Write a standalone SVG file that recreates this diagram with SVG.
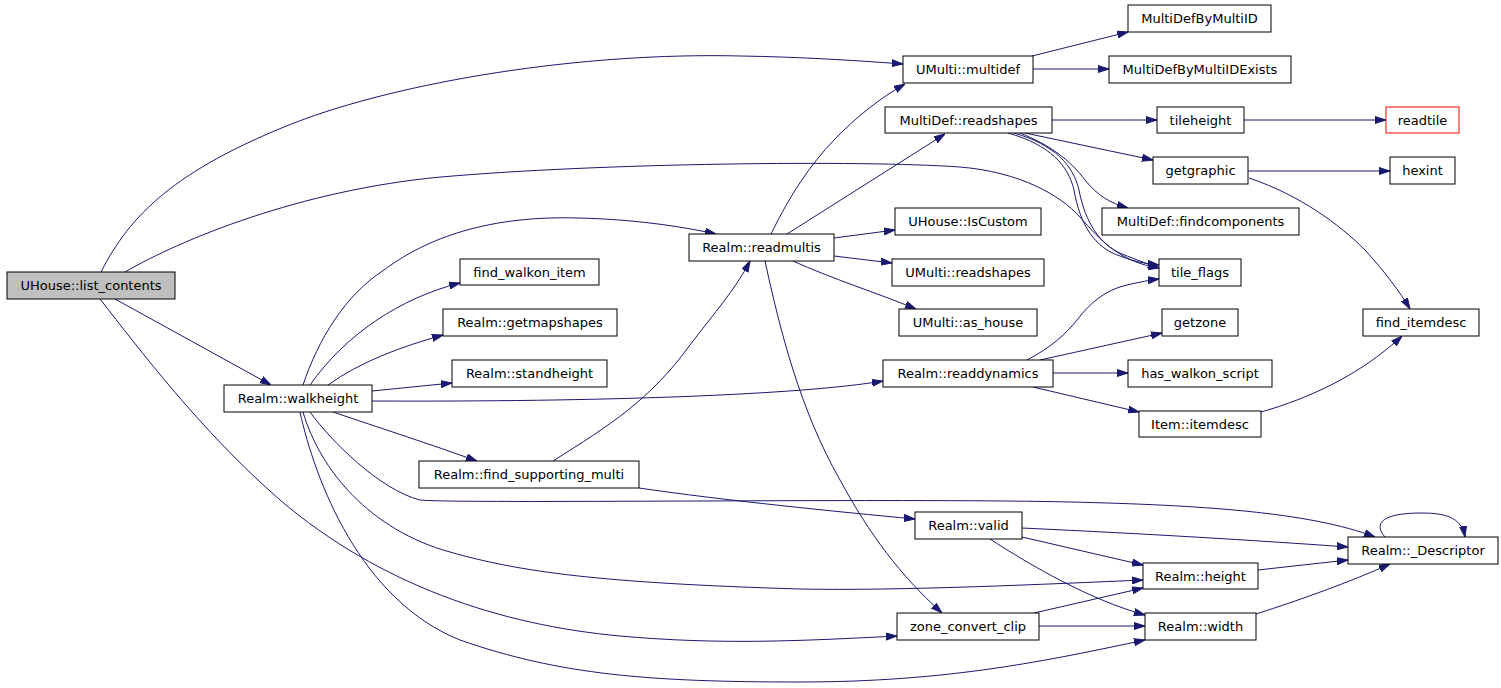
<svg xmlns="http://www.w3.org/2000/svg" width="1501" height="688" viewBox="0 0 1501 688">
<style>
.n rect{fill:#fff;stroke:#000;stroke-width:1}
.n text{font-family:"DejaVu Sans",sans-serif;font-size:13px;text-anchor:middle;fill:#000}
#edges path{fill:none;stroke:#191970;stroke-width:1;marker-end:url(#ah)}
</style>
<defs>
<marker id="ah" markerUnits="userSpaceOnUse" markerWidth="11" markerHeight="8" viewBox="0 0 11 8" refX="11" refY="4" orient="auto">
<path d="M0,0.5 L11,4 L0,7.5 z" fill="#191970" stroke="#191970" stroke-width="1"/>
</marker>
</defs>
<rect x="0" y="0" width="1501" height="688" fill="#fff"/>
<g id="edges">
<path d="M101,272 C130,215 175,170 294,123 C400,82 580,52 741,56 C800,57 850,60 903,64"/>
<path d="M125,272 C180,240 300,190 441,177 C600,163 860,160 960,167 C1020,172 1060,195 1080,217 C1100,240 1120,262 1159,268"/>
<path d="M115,299 L271,385"/>
<path d="M100,299 C140,350 200,430 280,500 C380,585 500,625 620,636 C720,645 800,641 897,636"/>
<path d="M303,385 C318,340 345,295 384,270 C420,243 480,215 578,218 C630,219 680,226 716,234"/>
<path d="M310,385 C345,335 400,298 460,283"/>
<path d="M328,385 C360,362 400,347 443,335"/>
<path d="M372,391 L452,383"/>
<path d="M372,401 C600,402 800,395 883,381"/>
<path d="M333,412 C380,428 430,444 477,461"/>
<path d="M310,412 C330,440 380,490 420,500 C460,504 900,498 1070,502 C1200,505 1310,512 1375,537"/>
<path d="M303,412 C320,470 370,530 450,552 C520,572 600,583 800,589 C900,591 1050,584 1143,580"/>
<path d="M300,412 C315,480 360,600 460,640 C560,675 650,682 800,682 C950,682 1050,660 1145,640"/>
<path d="M771,234 C790,195 810,165 834,140 C855,118 880,98 905,84"/>
<path d="M787,234 L945,134"/>
<path d="M834,238 L895,230"/>
<path d="M834,256 L892,263"/>
<path d="M793,261 C830,278 880,294 916,309"/>
<path d="M765,261 C780,330 800,410 840,480 C870,535 900,575 942,613"/>
<path d="M553,461 C610,425 650,400 690,345 C715,312 735,290 750,261"/>
<path d="M639,488 C720,500 840,512 915,519"/>
<path d="M1052,120 L1157,120"/>
<path d="M1025,133 L1153,160"/>
<path d="M1020,133 C1050,145 1070,160 1085,180 C1098,196 1110,203 1128,208"/>
<path d="M1008,133 C1050,145 1068,165 1074,190 C1080,225 1095,248 1120,256 C1135,262 1148,264 1159,265"/>
<path d="M1014,133 C1055,145 1073,165 1079,190 C1085,222 1100,245 1122,254 C1137,260 1148,264 1159,268"/>
<path d="M1244,120 L1386,120"/>
<path d="M1248,171 L1390,171"/>
<path d="M1249,178 C1300,195 1340,225 1365,250 C1385,272 1400,292 1410,309"/>
<path d="M1261,412 C1310,398 1360,375 1402,336"/>
<path d="M1032,56 L1128,32"/>
<path d="M1033,69 L1109,69"/>
<path d="M1027,360 C1050,348 1065,335 1077,320 C1090,303 1105,290 1127,285 C1140,282 1150,280 1159,279"/>
<path d="M1040,360 L1162,333"/>
<path d="M1053,373 L1128,373"/>
<path d="M1033,387 L1139,412"/>
<path d="M1022,528 C1150,534 1250,540 1348,547"/>
<path d="M1022,537 L1143,565"/>
<path d="M990,539 C1030,565 1090,600 1145,615"/>
<path d="M1034,613 L1143,588"/>
<path d="M1039,626 L1145,626"/>
<path d="M1258,570 L1348,560"/>
<path d="M1256,614 C1300,600 1350,582 1390,564"/>
<path d="M1385,537 C1372,522 1385,513 1422,513 C1450,513 1462,520 1465,537"/>
</g>
<g id="n_list_contents" class="n"><rect x="7" y="272" width="168" height="27" style="fill:#bfbfbf"/><text x="91" y="290">UHouse::list_contents</text></g>
<g id="n_multidef" class="n"><rect x="903" y="56" width="130" height="27"/><text x="968" y="74">UMulti::multidef</text></g>
<g id="n_MultiDefByMultiID" class="n"><rect x="1128" y="5" width="143" height="27"/><text x="1199.5" y="23">MultiDefByMultiID</text></g>
<g id="n_MultiDefByMultiIDExists" class="n"><rect x="1109" y="56" width="182" height="27"/><text x="1200" y="74">MultiDefByMultiIDExists</text></g>
<g id="n_md_readshapes" class="n"><rect x="885" y="107" width="167" height="26"/><text x="968.5" y="125">MultiDef::readshapes</text></g>
<g id="n_tileheight" class="n"><rect x="1157" y="107" width="87" height="26"/><text x="1200.5" y="125">tileheight</text></g>
<g id="n_readtile" class="n"><rect x="1386" y="107" width="73" height="26" style="stroke:#f00"/><text x="1422.5" y="125">readtile</text></g>
<g id="n_getgraphic" class="n"><rect x="1153" y="157" width="95" height="27"/><text x="1200.5" y="175">getgraphic</text></g>
<g id="n_hexint" class="n"><rect x="1390" y="157" width="65" height="27"/><text x="1422.5" y="175">hexint</text></g>
<g id="n_findcomponents" class="n"><rect x="1102" y="208" width="197" height="27"/><text x="1200.5" y="226">MultiDef::findcomponents</text></g>
<g id="n_readmultis" class="n"><rect x="689" y="234" width="145" height="27"/><text x="761.5" y="252">Realm::readmultis</text></g>
<g id="n_IsCustom" class="n"><rect x="895" y="208" width="146" height="27"/><text x="968" y="226">UHouse::IsCustom</text></g>
<g id="n_um_readshapes" class="n"><rect x="892" y="259" width="152" height="27"/><text x="968" y="277">UMulti::readshapes</text></g>
<g id="n_tile_flags" class="n"><rect x="1159" y="259" width="82" height="27"/><text x="1200" y="277">tile_flags</text></g>
<g id="n_find_walkon_item" class="n"><rect x="460" y="259" width="139" height="26"/><text x="529.5" y="277">find_walkon_item</text></g>
<g id="n_as_house" class="n"><rect x="899" y="309" width="138" height="27"/><text x="968" y="327">UMulti::as_house</text></g>
<g id="n_getzone" class="n"><rect x="1162" y="309" width="76" height="27"/><text x="1200" y="327">getzone</text></g>
<g id="n_find_itemdesc" class="n"><rect x="1363" y="309" width="116" height="27"/><text x="1421" y="327">find_itemdesc</text></g>
<g id="n_getmapshapes" class="n"><rect x="443" y="309" width="174" height="27"/><text x="530" y="327">Realm::getmapshapes</text></g>
<g id="n_standheight" class="n"><rect x="452" y="360" width="155" height="27"/><text x="529.5" y="378">Realm::standheight</text></g>
<g id="n_readdynamics" class="n"><rect x="883" y="360" width="170" height="27"/><text x="968" y="378">Realm::readdynamics</text></g>
<g id="n_has_walkon_script" class="n"><rect x="1128" y="360" width="144" height="27"/><text x="1200" y="378">has_walkon_script</text></g>
<g id="n_walkheight" class="n"><rect x="224" y="385" width="148" height="27"/><text x="298" y="403">Realm::walkheight</text></g>
<g id="n_itemdesc" class="n"><rect x="1139" y="411" width="122" height="26"/><text x="1200" y="429">Item::itemdesc</text></g>
<g id="n_find_supporting_multi" class="n"><rect x="419" y="461" width="220" height="27"/><text x="529" y="479">Realm::find_supporting_multi</text></g>
<g id="n_valid" class="n"><rect x="915" y="512" width="107" height="27"/><text x="968.5" y="530">Realm::valid</text></g>
<g id="n_Descriptor" class="n"><rect x="1348" y="537" width="150" height="27"/><text x="1423" y="555">Realm::_Descriptor</text></g>
<g id="n_height" class="n"><rect x="1143" y="563" width="115" height="26"/><text x="1200.5" y="581">Realm::height</text></g>
<g id="n_zone_convert_clip" class="n"><rect x="897" y="613" width="142" height="27"/><text x="968" y="631">zone_convert_clip</text></g>
<g id="n_width" class="n"><rect x="1145" y="613" width="111" height="27"/><text x="1200.5" y="631">Realm::width</text></g>
</svg>
